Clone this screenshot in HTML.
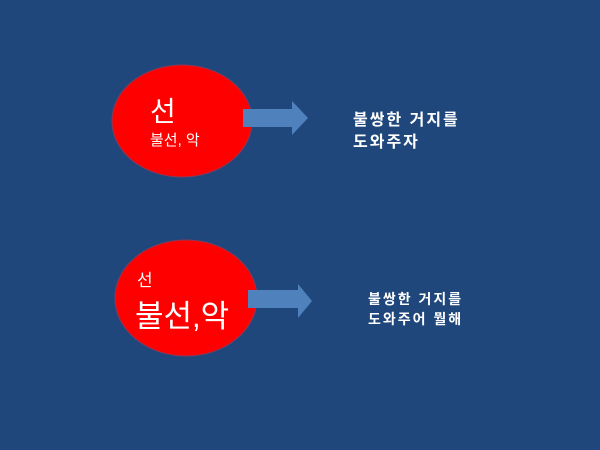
<!DOCTYPE html>
<html><head><meta charset="utf-8"><style>
html,body{margin:0;padding:0;width:600px;height:450px;overflow:hidden;background:#1f477c;}
</style></head><body>
<svg width="600" height="450" xmlns="http://www.w3.org/2000/svg" font-family="'Liberation Sans','Noto Sans CJK KR',sans-serif">
<rect width="600" height="450" fill="#1f477c"/>
<ellipse cx="182" cy="121" rx="70" ry="56" fill="#ff0000" stroke="#8a3a5a" stroke-width="1"/>
<polygon points="243,109 292,109 292,101 308,118 292,135 292,127 243,127" fill="#4f81bd"/>
<text x="150" y="121" font-size="28" fill="#fff">선</text>
<text x="150" y="145" font-size="15" fill="#fff">불선, 악</text>
<text x="353" y="125" font-size="16" font-weight="bold" fill="#fff" letter-spacing="2">불쌍한 거지를</text>
<text x="353" y="147" font-size="16" font-weight="bold" fill="#fff" letter-spacing="2">도와주자</text>
<ellipse cx="186" cy="298" rx="71" ry="58" fill="#ff0000" stroke="#8a3a5a" stroke-width="1"/>
<polygon points="248,290 298,290 298,284 312,301 298,318 298,308 248,308" fill="#4f81bd"/>
<text x="137" y="286" font-size="17" fill="#fff">선</text>
<text x="135" y="327" font-size="31" fill="#fff">불선,악</text>
<text x="368" y="304" font-size="14" font-weight="bold" fill="#fff" letter-spacing="2">불쌍한 거지를</text>
<text x="368" y="324" font-size="14" font-weight="bold" fill="#fff" letter-spacing="2">도와주어 뭘해</text>
</svg>
</body></html>
